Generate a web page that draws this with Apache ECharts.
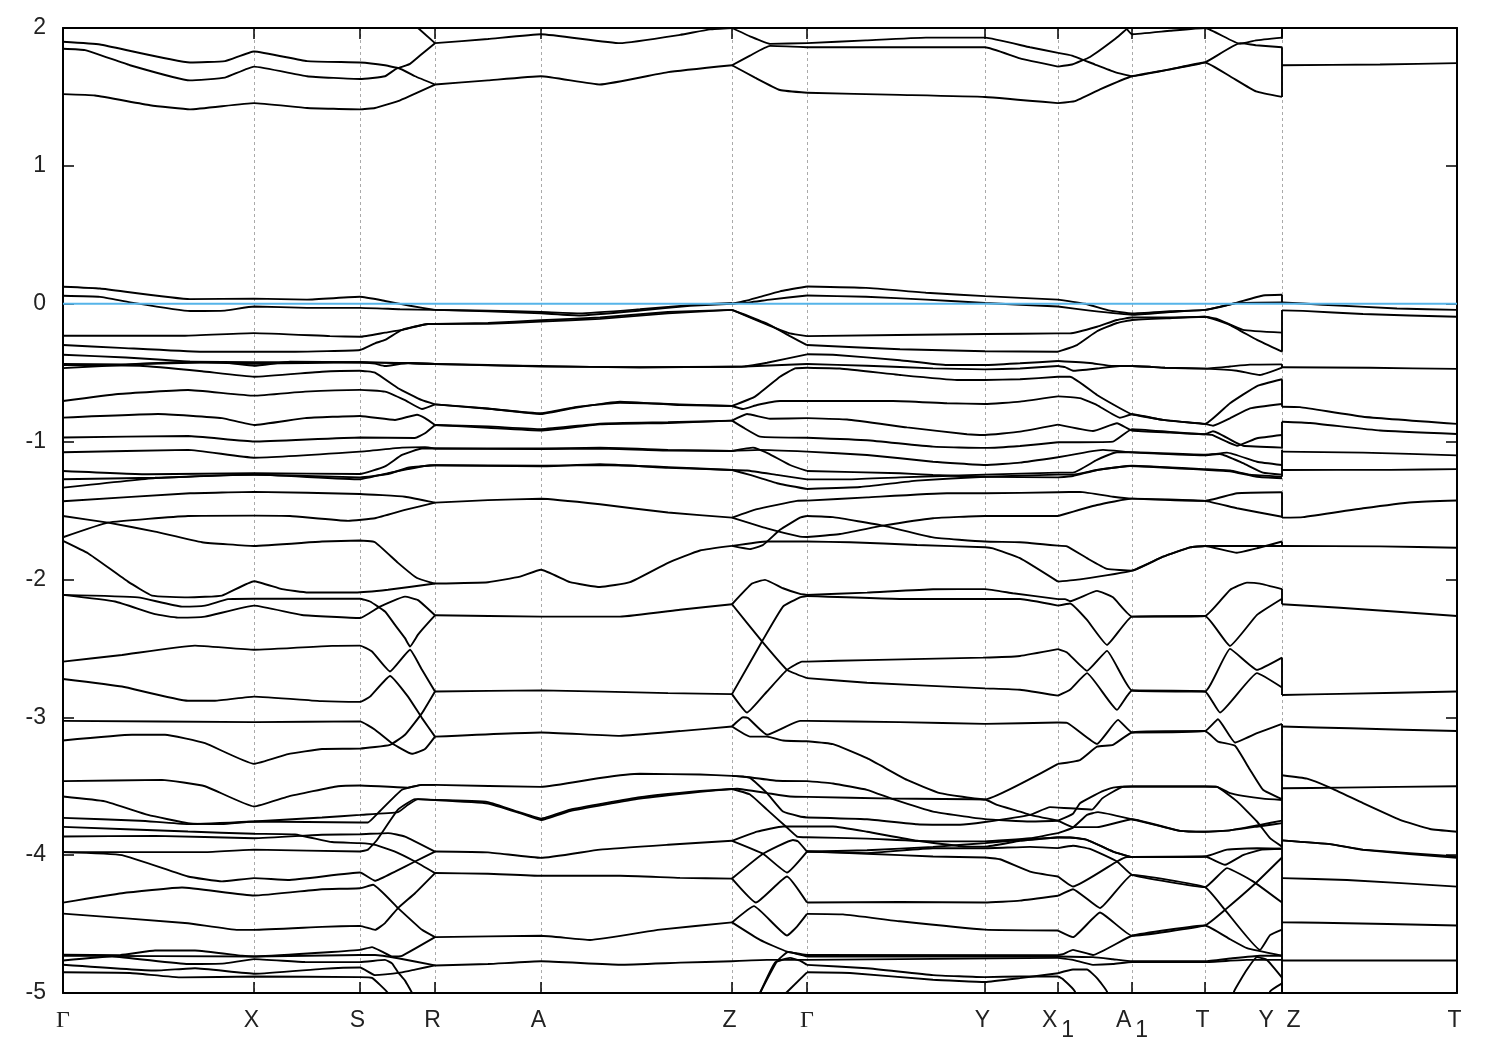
<!DOCTYPE html>
<html><head><meta charset="utf-8">
<script src="https://cdn.jsdelivr.net/npm/echarts@6/dist/echarts.min.js"></script>
<style>html,body{margin:0;padding:0;background:#fff}#c{width:1500px;height:1050px}</style>
</head><body><div id="c"></div>
<script>
// k-path positions of the high-symmetry points and their labels
const kTicks = [63,254,360,435,541,732,807,985,1058,1132,1205,1282,1457];
const kLabels = ['Γ','X','S','R','A','Z','Γ','Y','X1','A1','T','Y  Z','T'];
const energyTicks = [-5,-4,-3,-2,-1,0,1,2];
const fermi = [[63,0],[1457,0]];
// every band below is a flat list: k, E, k, E, ...
const gammaToR = [
[63,1.90,100,1.88,190,1.75,225,1.76,254,1.83,307,1.76,360,1.75,385,1.73,398,1.71,410,1.74,420,1.80,435,1.89],
[63,1.85,85,1.84,130,1.73,190,1.62,225,1.64,254,1.72,307,1.65,360,1.63,385,1.65,398,1.71,415,1.65,435,1.59],
[63,1.52,95,1.51,150,1.44,190,1.41,254,1.455,307,1.42,360,1.41,375,1.42,398,1.47,435,1.59],
[418,2.0,435,1.89],
[63,.123,100,.11,190,.033,254,.037,307,.03,360,.05,385,.02,410,-.015,435,-.045],
[63,.058,100,.05,130,.01,190,-.053,225,-.05,254,-.02,307,-.03,360,-.03,400,-.04,435,-.045],
[63,-.232,185,-.232,254,-.213,330,-.235,360,-.24,385,-.21,402,-.19,428,-.147,435,-.147],
[63,-.30,120,-.32,200,-.348,295,-.348,360,-.336,375,-.287,385,-.263,402,-.19,428,-.147,435,-.147],
[63,-.37,126,-.39,190,-.42,254,-.435,307,-.43,360,-.425,395,-.43,410,-.43,435,-.437],
[63,-.437,126,-.44,190,-.42,254,-.425,360,-.425,400,-.43,435,-.437],
[63,-.467,140,-.437,222,-.425,254,-.45,290,-.42,360,-.425,375,-.435,385,-.452,408,-.43,435,-.437],
[63,-.445,140,-.45,202,-.49,254,-.53,322,-.493,360,-.486,375,-.5,398,-.613,422,-.70,435,-.73],
[63,-.706,118,-.655,188,-.626,254,-.667,305,-.638,360,-.625,385,-.638,405,-.70,422,-.764,435,-.73],
[63,-.826,158,-.80,222,-.83,254,-.88,305,-.83,360,-.814,395,-.843,417,-.805,425,-.83,435,-.88],
[63,-.97,188,-.96,254,-1.0,360,-.97,415,-.974,425,-.94,435,-.88],
[63,-1.078,188,-1.06,254,-1.117,360,-1.073,402,-1.044,425,-1.04,435,-1.05],
[63,-1.213,148,-1.237,254,-1.23,360,-1.235,385,-1.18,402,-1.097,422,-1.05,435,-1.05],
[63,-1.273,155,-1.262,254,-1.24,360,-1.273,388,-1.23,408,-1.2,430,-1.172,435,-1.172],
[63,-1.334,155,-1.265,254,-1.24,360,-1.26,388,-1.235,408,-1.19,435,-1.172],
[63,-1.433,190,-1.375,254,-1.365,360,-1.38,405,-1.4,435,-1.443],
[63,-1.54,108,-1.588,155,-1.653,202,-1.73,254,-1.757,322,-1.725,360,-1.718,375,-1.73,398,-1.88,417,-1.99,432,-2.025,435,-2.03],
[63,-1.694,108,-1.588,188,-1.54,254,-1.537,290,-1.54,348,-1.575,375,-1.556,405,-1.496,435,-1.443],
[63,-1.72,88,-1.81,128,-2.016,152,-2.117,188,-2.13,222,-2.117,254,-2.013,282,-2.07,308,-2.095,355,-2.095,388,-2.075,435,-2.03],
[63,-2.112,138,-2.13,182,-2.197,205,-2.19,228,-2.143,254,-2.14,360,-2.14,370,-2.16,385,-2.233,395,-2.33,405,-2.426,410,-2.487,418,-2.40,425,-2.34,435,-2.26],
[63,-2.112,115,-2.16,155,-2.252,178,-2.277,205,-2.27,254,-2.19,302,-2.258,360,-2.28,380,-2.197,405,-2.125,418,-2.15,435,-2.26],
[63,-2.596,122,-2.548,195,-2.48,254,-2.51,332,-2.482,360,-2.48,372,-2.523,390,-2.668,410,-2.51,422,-2.656,435,-2.813],
[63,-2.722,122,-2.777,188,-2.88,215,-2.88,254,-2.85,322,-2.883,360,-2.888,370,-2.85,390,-2.7,408,-2.85,422,-3.006,435,-3.14],
[63,-3.026,254,-3.035,360,-3.03,375,-3.09,392,-3.188,412,-3.265,425,-3.23,435,-3.14],
[63,-3.168,132,-3.127,165,-3.127,205,-3.188,254,-3.338,288,-3.267,322,-3.23,360,-3.227,390,-3.2,405,-3.127,422,-2.97,435,-2.813],
[63,-3.463,162,-3.454,205,-3.5,254,-3.647,288,-3.575,338,-3.5,360,-3.495,408,-3.51,422,-3.49,435,-3.49],
[63,-3.575,105,-3.61,148,-3.708,188,-3.768,222,-3.775,254,-3.756,360,-3.763,368,-3.763,378,-3.695,402,-3.526,422,-3.49,435,-3.49],
[63,-3.73,140,-3.75,188,-3.775,254,-3.756,322,-3.727,360,-3.708,398,-3.688,408,-3.635,418,-3.594,435,-3.6],
[63,-3.795,188,-3.829,254,-3.845,295,-3.85,332,-3.905,360,-3.913,375,-3.925,395,-3.974,415,-4.046,435,-4.13],
[63,-3.865,155,-3.86,254,-3.877,322,-3.852,360,-3.848,388,-3.84,405,-3.865,435,-3.974],
[63,-3.978,205,-3.978,254,-3.96,360,-3.974,368,-3.96,377,-3.89,398,-3.67,415,-3.594,435,-3.6],
[63,-3.978,122,-4.0,188,-4.155,222,-4.19,254,-4.167,288,-4.18,360,-4.126,375,-4.186,395,-4.119,415,-4.046,435,-3.974],
[63,-4.344,122,-4.276,182,-4.235,254,-4.293,322,-4.247,360,-4.24,373,-4.215,398,-4.384,422,-4.542,435,-4.595],
[63,-4.424,188,-4.494,238,-4.542,254,-4.542,322,-4.52,360,-4.513,375,-4.542,385,-4.493,398,-4.384,415,-4.276,435,-4.13],
[63,-4.723,120,-4.725,155,-4.692,195,-4.692,242,-4.73,254,-4.735,315,-4.71,360,-4.687,372,-4.667,382,-4.70,392,-4.735,402,-4.73,435,-4.595],
[63,-4.73,254,-4.735,360,-4.724,375,-4.724,398,-4.748,435,-4.8],
[63,-4.764,112,-4.735,188,-4.79,225,-4.785,254,-4.754,305,-4.775,360,-4.776,385,-4.76,392,-4.785,398,-4.85,405,-4.91,412,-5.0,420,-5.2],
[63,-4.795,155,-4.837,195,-4.82,255,-4.86,322,-4.825,360,-4.815,375,-4.87,402,-4.85,415,-4.83,435,-4.8],
[63,-4.85,130,-4.855,182,-4.887,255,-4.88,360,-4.885,372,-4.89,388,-5.0,400,-5.2]
];
const rToZ = [
[435,1.89,488,1.92,541,1.955,620,1.89,680,1.95,710,1.99,732,2.0],
[435,1.59,488,1.62,541,1.65,600,1.59,668,1.68,732,1.73],
[435,-.045,488,-.05,541,-.06,580,-.07,640,-.04,690,-.01,732,.005],
[435,-.045,488,-.055,541,-.07,580,-.085,640,-.05,690,-.015,732,0],
[435,-.147,488,-.14,541,-.12,600,-.10,668,-.06,732,-.045],
[435,-.147,488,-.145,541,-.13,600,-.11,668,-.07,732,-.045],
[435,-.437,488,-.445,541,-.455,640,-.46,732,-.457],
[435,-.437,488,-.447,541,-.452,640,-.463,732,-.457],
[435,-.73,488,-.76,541,-.80,575,-.755,620,-.71,680,-.735,732,-.742],
[435,-.73,488,-.762,541,-.795,575,-.75,620,-.718,680,-.73,732,-.742],
[435,-.88,488,-.9,541,-.92,600,-.875,668,-.865,732,-.848],
[435,-.88,488,-.89,541,-.91,600,-.87,668,-.86,732,-.848],
[435,-1.05,541,-1.055,600,-1.05,668,-1.065,732,-1.068],
[435,-1.05,541,-1.05,600,-1.045,668,-1.06,732,-1.068],
[435,-1.172,541,-1.175,600,-1.17,668,-1.185,732,-1.206],
[435,-1.172,541,-1.18,600,-1.165,668,-1.19,732,-1.206],
[435,-1.443,488,-1.425,541,-1.415,600,-1.455,668,-1.515,732,-1.552],
[435,-2.03,488,-2.02,520,-1.98,541,-1.93,570,-2.02,600,-2.055,630,-2.02,668,-1.88,700,-1.79,732,-1.757],
[435,-2.26,541,-2.27,620,-2.27,680,-2.22,732,-2.18],
[435,-2.813,541,-2.805,668,-2.825,732,-2.832],
[435,-3.14,541,-3.11,620,-3.135,680,-3.10,732,-3.067],
[435,-3.49,541,-3.505,600,-3.44,640,-3.41,700,-3.415,732,-3.425],
[435,-3.6,488,-3.615,520,-3.69,541,-3.735,570,-3.67,640,-3.58,700,-3.535,732,-3.52],
[435,-3.6,488,-3.625,520,-3.695,541,-3.745,570,-3.68,640,-3.59,700,-3.54,732,-3.52],
[435,-3.974,488,-3.98,541,-4.02,600,-3.96,668,-3.925,732,-3.896],
[435,-4.13,488,-4.135,541,-4.15,620,-4.15,680,-4.165,732,-4.17],
[435,-4.595,541,-4.585,590,-4.615,660,-4.54,732,-4.488],
[435,-4.8,488,-4.79,541,-4.77,620,-4.795,680,-4.78,732,-4.77]
];
const zToGamma = [
[732,2.0,750,1.94,770,1.885,807,1.89],
[732,1.73,750,1.80,770,1.87,807,1.86],
[732,1.73,755,1.64,780,1.55,807,1.53],
[732,0,745,.02,760,.05,780,.09,807,.125],
[732,0,750,.01,770,.03,807,.06],
[732,-.045,745,-.08,770,-.155,790,-.235,807,-.30],
[732,-.045,745,-.085,770,-.16,790,-.215,807,-.235],
[732,-.457,740,-.457,767,-.428,807,-.367],
[732,-.457,745,-.455,807,-.437],
[732,-.742,755,-.674,780,-.53,795,-.469,807,-.464],
[732,-.742,743,-.764,757,-.735,780,-.706,807,-.706],
[732,-.848,747,-.80,770,-.834,807,-.83],
[732,-.848,743,-.897,760,-.964,807,-.972],
[732,-1.068,753,-1.044,768,-1.085,790,-1.17,807,-1.213],
[732,-1.068,760,-1.06,807,-1.073],
[732,-1.206,747,-1.21,777,-1.242,807,-1.274],
[732,-1.206,750,-1.242,777,-1.302,807,-1.344],
[732,-1.552,757,-1.49,797,-1.43,807,-1.428],
[732,-1.552,767,-1.63,800,-1.69,807,-1.692],
[732,-1.757,750,-1.78,763,-1.75,780,-1.64,800,-1.552,807,-1.54],
[732,-1.757,767,-1.725,807,-1.725],
[732,-2.18,752,-2.03,765,-2.003,783,-2.064,800,-2.105,807,-2.112],
[732,-2.18,762,-2.45,787,-2.656,807,-2.716],
[732,-2.832,762,-2.45,783,-2.197,800,-2.13,807,-2.12],
[732,-2.832,747,-2.966,767,-2.813,787,-2.656,802,-2.596,807,-2.596],
[732,-3.067,743,-3.0,748,-3.005,767,-3.127,800,-3.026,807,-3.026],
[732,-3.067,750,-3.14,767,-3.14,783,-3.168,807,-3.174],
[732,-3.425,743,-3.43,777,-3.46,807,-3.463],
[732,-3.425,750,-3.44,767,-3.55,783,-3.684,800,-3.72,807,-3.727],
[732,-3.52,737,-3.518,767,-3.55,790,-3.575,807,-3.577],
[732,-3.52,750,-3.56,767,-3.67,787,-3.8,797,-3.865,807,-3.87],
[732,-3.896,757,-3.83,783,-3.792,807,-3.792],
[732,-3.896,763,-3.99,787,-4.126,807,-3.974],
[732,-4.17,763,-3.99,793,-3.89,798,-3.9,807,-3.974],
[732,-4.17,756,-4.344,787,-4.155,807,-4.344],
[732,-4.488,754,-4.37,787,-4.583,797,-4.518,807,-4.426],
[732,-4.488,760,-4.615,787,-4.70,807,-4.724],
[732,-4.77,767,-4.76,807,-4.76],
[760,-5.0,777,-4.77,788,-4.703,807,-4.735],
[760,-5.0,775,-4.78,790,-4.745,800,-4.765,807,-4.796],
[786,-5.0,807,-4.85]
];
const gammaToX1 = [
[807,1.89,866,1.91,926,1.93,985,1.93,1030,1.86,1058,1.82],
[807,1.86,985,1.86,1020,1.78,1058,1.72],
[807,1.53,900,1.515,985,1.50,1058,1.455],
[807,.125,866,.115,926,.08,985,.055,1058,.03],
[807,.06,866,.05,926,.03,985,.005,1058,-.02],
[807,-.235,985,-.22,1058,-.215],
[807,-.30,900,-.33,985,-.345,1058,-.348],
[807,-.367,833,-.37,900,-.41,947,-.445,985,-.445,1020,-.432,1058,-.416],
[807,-.437,867,-.45,933,-.469,985,-.476,1020,-.47,1058,-.452],
[807,-.464,840,-.47,900,-.517,957,-.553,985,-.553,1020,-.548,1058,-.53],
[807,-.706,893,-.706,947,-.722,985,-.727,1020,-.71,1058,-.672],
[807,-.83,847,-.84,907,-.897,967,-.947,985,-.952,1020,-.928,1058,-.877],
[807,-.972,867,-.99,933,-1.037,985,-1.046,1020,-1.032,1058,-1.005],
[807,-1.213,900,-1.23,933,-1.243,985,-1.255,1058,-1.26],
[807,-1.073,867,-1.097,933,-1.146,985,-1.17,1020,-1.153,1058,-1.114],
[807,-1.274,850,-1.274,900,-1.26,985,-1.24,1058,-1.225],
[807,-1.344,860,-1.33,917,-1.283,985,-1.255,1058,-1.24],
[807,-1.428,867,-1.405,947,-1.375,985,-1.375,1058,-1.368],
[807,-1.692,840,-1.67,883,-1.61,933,-1.556,985,-1.54,1058,-1.54],
[807,-1.54,833,-1.548,883,-1.61,933,-1.695,985,-1.725,1020,-1.73,1058,-1.755],
[807,-1.725,850,-1.73,917,-1.75,985,-1.767,993,-1.775,1020,-1.846,1058,-2.016],
[807,-2.112,867,-2.096,933,-2.071,985,-2.07,1013,-2.1,1058,-2.143],
[807,-2.12,907,-2.142,1020,-2.142,1058,-2.19],
[807,-2.716,867,-2.75,985,-2.79,1020,-2.80,1058,-2.843],
[807,-2.596,867,-2.585,983,-2.567,1020,-2.555,1058,-2.506],
[807,-3.026,900,-3.035,985,-3.048,1058,-3.038],
[807,-3.174,833,-3.195,867,-3.297,907,-3.454,940,-3.55,985,-3.596,1058,-3.338],
[807,-3.463,833,-3.48,867,-3.526,893,-3.594,933,-3.684,985,-3.739,1030,-3.756,1058,-3.75],
[807,-3.727,867,-3.74,917,-3.776,960,-3.78,985,-3.76,1030,-3.708,1050,-3.652,1058,-3.655],
[807,-3.577,893,-3.59,985,-3.596,997,-3.635,1020,-3.684,1030,-3.708,1058,-3.75],
[807,-3.87,867,-3.88,933,-3.9,985,-3.9,1030,-3.877,1058,-3.84],
[807,-3.792,833,-3.792,867,-3.83,917,-3.896,967,-3.938,985,-3.938,1020,-3.896,1058,-3.87],
[807,-3.974,867,-3.965,933,-3.94,985,-3.913,1020,-3.89,1058,-3.872],
[807,-3.974,867,-3.985,933,-3.95,985,-3.95,1030,-3.94,1058,-3.949],
[807,-3.974,867,-3.99,933,-4.01,985,-4.017,1000,-4.03,1030,-4.119,1058,-4.155],
[807,-4.344,900,-4.34,985,-4.344,1020,-4.33,1058,-4.295],
[807,-4.426,843,-4.43,900,-4.48,985,-4.54,1058,-4.547],
[807,-4.724,1058,-4.725],[807,-4.735,1058,-4.735],[807,-4.76,1058,-4.745],
[807,-4.85,850,-4.855,933,-4.904,985,-4.92,1020,-4.892,1058,-4.857],
[807,-4.796,867,-4.82,933,-4.87,985,-4.885,1020,-4.88,1058,-4.88]
];
const x1ToY = [
[1058,1.82,1072,1.80,1095,1.735,1115,1.68,1132,1.65,1170,1.70,1205,1.75,1240,1.89,1256,1.875,1282,1.86],
[1058,1.72,1072,1.735,1090,1.79,1115,1.92,1128,2.0,1140,2.05],
[1124,2.02,1132,1.955,1170,1.98,1205,2.0,1240,1.885,1256,1.91,1282,1.93],
[1058,1.455,1075,1.47,1100,1.555,1132,1.65,1170,1.70,1205,1.75,1230,1.65,1256,1.54,1282,1.50],
[1058,.03,1085,0,1110,-.05,1132,-.07,1170,-.055,1205,-.045,1233,0,1263,.06,1282,.065],
[1058,-.02,1090,-.05,1132,-.08,1170,-.06,1205,-.045,1237,.005,1282,.01],
[1058,-.215,1070,-.215,1097,-.167,1117,-.118,1132,-.10,1170,-.10,1205,-.095,1217,-.11,1243,-.19,1282,-.21],
[1058,-.348,1077,-.30,1097,-.2,1117,-.14,1132,-.118,1170,-.105,1205,-.095,1230,-.155,1257,-.263,1282,-.348],
[1058,-.416,1090,-.43,1113,-.452,1132,-.452,1165,-.464,1205,-.471,1230,-.455,1250,-.442,1282,-.44],
[1058,-.452,1065,-.46,1073,-.486,1097,-.47,1120,-.452,1132,-.452,1165,-.464,1205,-.471,1237,-.486,1260,-.517,1282,-.464],
[1058,-.53,1070,-.53,1097,-.662,1120,-.758,1132,-.802,1163,-.843,1205,-.872,1230,-.722,1257,-.597,1282,-.548],
[1058,-.672,1080,-.685,1097,-.735,1120,-.827,1132,-.802,1163,-.843,1205,-.872,1213,-.885,1230,-.831,1250,-.759,1282,-.727],
[1058,-.877,1093,-.923,1117,-.867,1132,-.92,1170,-.935,1205,-.947,1213,-.925,1237,-1.012,1243,-1.03,1282,-1.044],
[1058,-1.005,1113,-1.0,1132,-.91,1170,-.93,1205,-.947,1212,-.952,1237,-1.03,1257,-.976,1282,-.952],
[1058,-1.114,1103,-1.06,1132,-1.078,1205,-1.10,1227,-1.08,1257,-1.146,1282,-1.17],
[1058,-1.225,1073,-1.225,1097,-1.133,1117,-1.078,1132,-1.078,1205,-1.095,1220,-1.09,1243,-1.157,1263,-1.225,1282,-1.24],
[1058,-1.24,1073,-1.24,1097,-1.206,1127,-1.177,1132,-1.175,1205,-1.2,1230,-1.21,1250,-1.24,1282,-1.255],
[1058,-1.26,1073,-1.25,1097,-1.206,1130,-1.177,1205,-1.205,1230,-1.215,1257,-1.255,1282,-1.266],
[1058,-1.368,1080,-1.365,1113,-1.40,1132,-1.414,1205,-1.43,1237,-1.375,1282,-1.368],
[1058,-1.54,1097,-1.46,1132,-1.414,1205,-1.43,1237,-1.484,1282,-1.545],
[1058,-1.755,1067,-1.76,1087,-1.846,1107,-1.924,1132,-1.936,1163,-1.835,1190,-1.767,1205,-1.757,1237,-1.806,1257,-1.774,1282,-1.725],
[1058,-2.016,1080,-2.0,1132,-1.936,1163,-1.835,1190,-1.767,1205,-1.757,1282,-1.757],
[1058,-2.143,1065,-2.143,1070,-2.158,1097,-2.083,1113,-2.13,1132,-2.27,1205,-2.265,1230,-2.076,1247,-2.023,1260,-2.03,1282,-2.07],
[1058,-2.19,1070,-2.175,1087,-2.294,1107,-2.475,1132,-2.27,1205,-2.265,1230,-2.482,1257,-2.257,1282,-2.14],
[1058,-2.506,1067,-2.53,1087,-2.663,1107,-2.518,1132,-2.806,1205,-2.813,1230,-2.504,1257,-2.656,1282,-2.567],
[1058,-2.843,1070,-2.80,1087,-2.68,1117,-2.946,1132,-2.806,1205,-2.813,1220,-2.966,1257,-2.68,1282,-2.784],
[1058,-3.038,1067,-3.04,1097,-3.193,1118,-3.019,1132,-3.11,1205,-3.10,1218,-3.014,1235,-3.183,1257,-3.115,1282,-3.048],
[1058,-3.338,1080,-3.31,1097,-3.213,1113,-3.20,1132,-3.11,1205,-3.10,1218,-3.176,1235,-3.207,1250,-3.381,1263,-3.526,1282,-3.594],
[1058,-3.75,1073,-3.70,1080,-3.623,1102,-3.537,1113,-3.51,1132,-3.502,1205,-3.502,1217,-3.505,1230,-3.55,1243,-3.57,1263,-3.59,1282,-3.6],
[1058,-3.655,1070,-3.66,1092,-3.67,1102,-3.59,1113,-3.54,1123,-3.505,1132,-3.502,1205,-3.502,1217,-3.505,1237,-3.61,1257,-3.756,1270,-3.877,1282,-3.938],
[1058,-3.75,1073,-3.797,1097,-3.797,1132,-3.74,1180,-3.824,1205,-3.83,1230,-3.82,1260,-3.79,1282,-3.768],
[1058,-3.84,1073,-3.80,1087,-3.708,1098,-3.688,1132,-3.74,1180,-3.824,1205,-3.83,1230,-3.82,1260,-3.78,1282,-3.75],
[1058,-3.87,1070,-3.872,1087,-3.889,1113,-3.974,1132,-4.014,1205,-4.01,1227,-3.96,1257,-3.95,1282,-3.954],
[1058,-3.872,1070,-3.872,1087,-3.889,1113,-3.974,1132,-4.014],
[1058,-3.949,1073,-3.932,1090,-3.955,1117,-4.046,1132,-4.143,1205,-4.232,1227,-4.094,1253,-4.19,1282,-4.344],
[1058,-4.155,1073,-4.228,1117,-4.046,1127,-4.014,1132,-4.014,1205,-4.01,1225,-4.07,1243,-4.0,1262,-3.96,1282,-3.954],
[1058,-4.295,1073,-4.247,1100,-4.384,1132,-4.143,1205,-4.232,1225,-4.397,1260,-4.687,1270,-4.58,1282,-4.54],
[1058,-4.547,1073,-4.595,1100,-4.416,1132,-4.585,1205,-4.51,1225,-4.397,1255,-4.208,1282,-4.017],
[1058,-4.725,1063,-4.718,1073,-4.687,1093,-4.724,1132,-4.585,1205,-4.51,1230,-4.61,1247,-4.675,1282,-4.73],
[1058,-4.735,1093,-4.74,1113,-4.755,1132,-4.77,1205,-4.77,1230,-4.75,1260,-4.73,1282,-4.73],
[1058,-4.745,1073,-4.76,1093,-4.796,1113,-4.79,1132,-4.775,1205,-4.775,1247,-4.76,1282,-4.76],
[1058,-4.857,1073,-4.83,1087,-4.83,1097,-4.892,1107,-4.99,1112,-5.2],
[1058,-4.88,1063,-4.90,1075,-4.99,1080,-5.2],
[1230,-5.2,1234,-4.99,1247,-4.83,1257,-4.74,1267,-4.76,1282,-4.888],
[1268,-5.2,1270,-4.99,1282,-4.93]
];
const jumpYToZ = [
[1282,2.0,1282,1.93],[1282,1.86,1282,1.50],
[1282,.065,1282,.01],[1282,-.045,1282,-.348],[1282,-.44,1282,-.464],[1282,-.548,1282,-.747],
[1282,-.856,1282,-1.05],[1282,-1.06,1282,-1.255],[1282,-1.368,1282,-1.552],[1282,-1.725,1282,-1.757],
[1282,-2.07,1282,-2.18],[1282,-2.567,1282,-2.838],[1282,-3.048,1282,-5.0]
];
const zToT = [
[1282,1.73,1380,1.735,1457,1.745],
[1282,.01,1323,-.007,1397,-.035,1457,-.045],
[1282,-.048,1303,-.052,1363,-.075,1457,-.095],
[1282,-.461,1370,-.465,1457,-.473],
[1282,-.747,1300,-.75,1363,-.82,1457,-.872],
[1282,-.856,1310,-.865,1380,-.92,1457,-.945],
[1282,-1.073,1363,-1.08,1457,-1.10],
[1282,-1.206,1390,-1.205,1457,-1.20],
[1282,-1.552,1303,-1.548,1363,-1.484,1413,-1.44,1457,-1.428],
[1282,-1.757,1380,-1.76,1457,-1.77],
[1282,-2.18,1340,-2.205,1457,-2.265],
[1282,-2.838,1340,-2.83,1457,-2.813],
[1282,-3.067,1350,-3.08,1457,-3.10],
[1282,-3.42,1307,-3.445,1330,-3.51,1363,-3.623,1400,-3.744,1430,-3.81,1457,-3.83],
[1282,-3.515,1340,-3.51,1457,-3.50],
[1282,-3.893,1330,-3.92,1363,-3.96,1457,-4.01],
[1282,-3.893,1330,-3.92,1363,-3.962,1457,-4.02],
[1282,-4.167,1347,-4.18,1457,-4.228],
[1282,-4.488,1320,-4.49,1457,-4.51],
[1282,-4.764,1457,-4.764]
];

const toPairs = f => { const p = []; for (let i = 0; i < f.length; i += 2) p.push([f[i], f[i + 1]]); return p; };
const allBands = [...gammaToR, ...rToZ, ...zToGamma, ...gammaToX1, ...x1ToY, ...jumpYToZ, ...zToT];
const series = allBands.map(b => ({
  type: 'line', data: toPairs(b), showSymbol: false, silent: true, animation: false,
  smooth: 0.12,
  lineStyle: { color: '#000', width: 1.9 }, z: 3
}));
series.push({ type: 'line', data: fermi, showSymbol: false, silent: true, animation: false,
  lineStyle: { color: '#56b4e9', width: 2 }, z: 4 });

const tf = { fontFamily: 'Liberation Sans', fontSize: 23, color: '#222' };
const frame = { show: true, onZero: false, lineStyle: { color: '#000', width: 2 } };
const labelByK = Object.fromEntries(kTicks.map((k, i) => [k, kLabels[i]]));
const chart = echarts.init(document.getElementById('c'), null, { renderer: 'canvas' });
chart.setOption({
  animation: false, backgroundColor: '#fff',
  grid: { left: 63, right: 43, top: 28, bottom: 57, containLabel: false },
  xAxis: [
    { type: 'value', min: 63, max: 1457, position: 'bottom',
      axisLine: frame,
      axisTick: { show: true, inside: true, length: 11, customValues: kTicks, lineStyle: { color: '#000', width: 1.5 } },
      splitLine: { show: true, lineStyle: { color: '#aaa', type: [3, 3], width: 1 } },
      axisLabel: { show: true, customValues: kTicks, margin: 6, hideOverlap: false, showMinLabel: true, showMaxLabel: true,
        formatter: v => {
          const s = labelByK[v] || '';
          if (s === 'Γ') return '{g|Γ}';
          if (s.endsWith('1')) return '{x|' + s[0] + '}{s|1}';
          return '{n|' + s + '}';
        },
        rich: {
          n: { ...tf, whiteSpace: 'pre', padding: [10, 5, 10, 0] },
          x: { ...tf },
          g: { fontFamily: 'Liberation Serif', fontSize: 24, color: '#222', padding: [10, 0, 10, 0] },
          s: { ...tf, padding: [20, 0, 0, 4] } } } },
    { type: 'value', min: 63, max: 1457, position: 'top',
      axisLine: frame,
      axisTick: { show: true, inside: true, length: 11, customValues: kTicks, lineStyle: { color: '#000', width: 1.5 } },
      splitLine: { show: false }, axisLabel: { show: false } }
  ],
  yAxis: [
    { type: 'value', min: -5, max: 2, interval: 1, position: 'left',
      axisLine: frame,
      axisTick: { show: true, inside: true, length: 11, lineStyle: { color: '#000', width: 1.5 } },
      splitLine: { show: false },
      axisLabel: { ...tf, margin: 17, formatter: v => String(v) } },
    { type: 'value', min: -5, max: 2, interval: 1, position: 'right',
      axisLine: frame,
      axisTick: { show: true, inside: true, length: 11, lineStyle: { color: '#000', width: 1.5 } },
      splitLine: { show: false }, axisLabel: { show: false } }
  ],
  series
});
</script></body></html>
